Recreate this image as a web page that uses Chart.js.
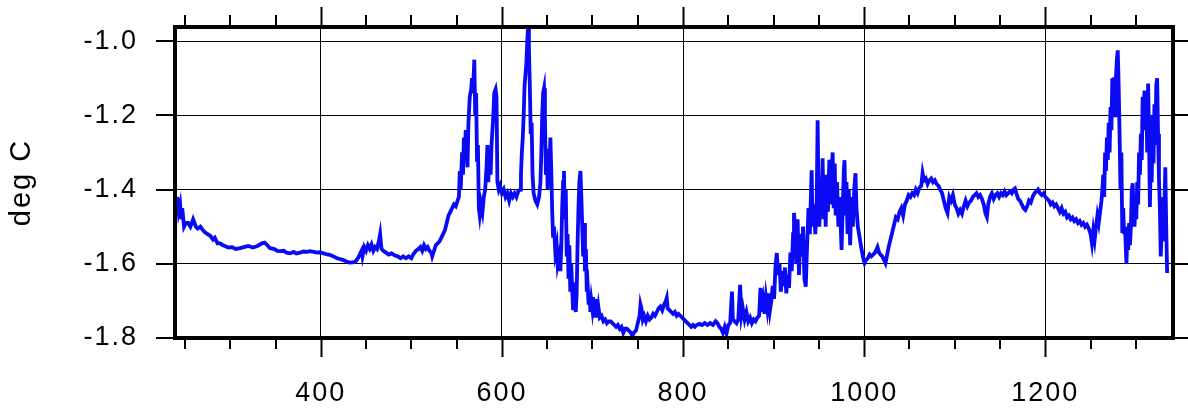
<!DOCTYPE html>
<html><head><meta charset="utf-8">
<script src="https://cdn.jsdelivr.net/npm/chart.js@4"></script>
<style>html,body{margin:0;padding:0;background:#fff}#wrap{width:1188px;height:409px;position:relative}</style>
</head><body><div id="wrap"><canvas id="c"></canvas></div>
<script>
const years = [
241.4,243,244.7,246,247,249,251,253.5,256,259,262,264,267,270,272,275,278,281,283,286,289,292,294,298,302,306,311,315,320,325,330,335,338,341,344,348,352,355,359,362,366,370,373,377,381,385,388,392,396,399,403,407,410,414,418,421,425,429,432,435,438,441,443,445,446,448,450,452,454,456,458,460,462,464,465.5,467,469,472,475,478,482,
485,488,491,494,497,500,502,505,508,510,512,514,516,518,520,522,523,525,527,529,531,533,535,537,539,541,543,545,547,549,551,552.5,553.5,554.5,556,557,558,559,560,561,562,563,564.5,566,567,568,569.5,570.5,571.5,572.5,573.5,574.5,575.5,577,578.5,580,581.5,583,584,585,586,587.5,588.5,589.5,590.5,591.5,593,594,595,596.5,598,600,602,604,606,608,610,612,614,616,618,
620,621,622,623,624,625,626,627,628,628.8,629.8,630.8,631.8,632.8,633.8,635,637,639,641,642.5,643.5,644.5,645.5,646.5,647.5,648.5,649.5,650.5,651.5,652.5,653.5,654.5,655.5,656.5,657.5,659,660.5,661.5,663,664.5,665.5,666.5,667.5,668.5,669.5,670.5,671.5,672.5,673.5,674.5,675.5,676.5,677.5,678.5,679.5,680.5,681.5,682.5,683.5,684.5,685.5,686.7,687.7,688.7,689.7,690.7,691.7,692.7,693.7,694.7,695.7,696.7,697.7,698.7,699.7,700.7,701.7,702.7,703.7,704.7,705.7,706.7,708,710,712,714,716,718,
720,722,724,726,728,730,732,734,736,738,740,742,744,746,748,750,752,753,754,755.5,757,759,761,763,765,767,769,771,773,775,777,779,781,782,783,785,787,789,791,793,795,797,799,801,803,805,807,809,811,813,815,818,821,824,827,830,833,836,838,840,842,844,846,
848,850,852,854,855,857,859,861,863,864.5,866,868,870,872,874,876,878,880,882,884,885.5,887,888.5,890,891.5,893,894.5,896,897.5,899,900.5,902,903.5,905,906.5,908,909.5,911,912.5,914,915.5,917,918.5,920,921.5,922.5,923.5,925,926.5,928,929.5,931,932.5,934,935.5,937,938.5,940,941,942,943,944.5,946,947.5,948.6,949.5,950.5,952,953.2,954.1,955.2,956.5,957.5,958.5,960,961.5,963,964.2,965.2,966.3,967.5,968.5,970,971.5,973,975,976.3,977.5,978.3,979.5,980.5,981.6,983,984.5,986,987.5,989,990.4,991.5,993,995,997,999,1000.5,
1002,1004,1006,1008,1010,1012,1014.7,1016.5,1018,1020,1022,1023.5,1025,1027,1029,1031,1033,1035,1037,1039,1041,1043,1045,1047,1049,1051,1053,1055,1057,1059,1061,1063,1064.5,1066,1068,1070,1072,1074,1076,1078,1080,1082,1084,1086,1088,1090,1092,1094,1096,1098,1100,1102,1104,1106,1108,1110,1112,1114,1116,1118,1120,1122,1124,1126,1128,1130,1132,1134,1135.5,1137,1139,1141,1143,1145,1147,1149,1151,1153,1155,1157,1159,1161,1163,1165,1166.5,1168,1170,1172,1174,1176,1178,1180,1182,1184,1186,1188,1190,1192,1194,1196,1198,1200,1202,1204,1206,1208,1210,1212,1214,1216,1218,1220,1222,1224,1226,1228,1230,1232,1234,1236,1238,1240,1242,1244,1246,1248,1250,1251.5,1253,1254.5,
1256,1257.5,1259,1260.5,1262,1263,1264,1265,1266,1267,1268,1269,1270,1271,1272,1273,1274,1275,1276,1277,1278,1279,1280,1281,1282,1283,1284,1285,1286,1287,1288,1289.6,1290.5,1291.5,1292.5,1293.5,1294.5,1295.5,1296.5,1297.5,1298.5,1299.5,1300.5,1301.5,1302.5,1303.5,1304.5,1305.5,1306.5,1307.5,1308.5,1309.5,1310.5,1311.5,1312.5,1313.5,1314.5,1315.5,1316.5,1317.5,1318.5,1319.5,1320.5,1321.5,1322.5,1323.5,1324.5,1325.5,1326.5,1327.5,1328.5,1329.5,1330.5,1331.5,1332.5,1333.5,1334.5
];
const tempC = [
-1.42,-1.46,-1.44,-1.48,-1.45,-1.50,-1.49,-1.49,-1.50,-1.48,-1.50,-1.505,-1.50,-1.51,-1.515,-1.52,-1.525,-1.535,-1.53,-1.545,-1.545,-1.55,-1.552,-1.556,-1.555,-1.56,-1.558,-1.555,-1.552,-1.556,-1.552,-1.545,-1.543,-1.55,-1.558,-1.56,-1.565,-1.566,-1.565,-1.57,-1.572,-1.568,-1.572,-1.57,-1.567,-1.568,-1.566,-1.568,-1.57,-1.569,-1.572,-1.575,-1.576,-1.58,-1.585,-1.587,-1.59,-1.595,-1.597,-1.596,-1.595,-1.585,-1.575,-1.565,-1.58,-1.555,-1.565,-1.55,-1.56,-1.548,-1.565,-1.555,-1.56,-1.54,-1.52,-1.56,-1.565,-1.57,-1.575,-1.572,-1.578,
-1.58,-1.585,-1.58,-1.585,-1.58,-1.585,-1.575,-1.565,-1.56,-1.555,-1.565,-1.55,-1.56,-1.555,-1.565,-1.57,-1.58,-1.565,-1.55,-1.545,-1.54,-1.53,-1.52,-1.51,-1.49,-1.47,-1.46,-1.45,-1.44,-1.445,-1.43,-1.42,-1.35,-1.40,-1.30,-1.36,-1.26,-1.32,-1.24,-1.30,-1.34,-1.22,-1.15,-1.13,-1.10,-1.14,-1.05,-1.20,-1.14,-1.32,-1.28,-1.45,-1.47,-1.44,-1.46,-1.42,-1.40,-1.34,-1.28,-1.38,-1.30,-1.36,-1.28,-1.24,-1.20,-1.14,-1.13,-1.15,-1.38,-1.40,-1.39,-1.41,-1.40,-1.42,-1.41,-1.43,-1.41,-1.42,-1.41,-1.42,-1.405,
-1.40,-1.36,-1.30,-1.26,-1.20,-1.12,-1.09,-1.06,-1.00,-0.965,-1.02,-1.12,-1.25,-1.22,-1.36,-1.41,-1.43,-1.44,-1.42,-1.38,-1.30,-1.20,-1.14,-1.127,-1.20,-1.36,-1.30,-1.40,-1.29,-1.36,-1.26,-1.35,-1.46,-1.53,-1.50,-1.57,-1.55,-1.60,-1.58,-1.62,-1.56,-1.45,-1.38,-1.35,-1.48,-1.40,-1.58,-1.52,-1.64,-1.55,-1.675,-1.60,-1.66,-1.72,-1.65,-1.70,-1.73,-1.68,-1.55,-1.45,-1.38,-1.35,-1.42,-1.50,-1.58,-1.49,-1.62,-1.56,-1.675,-1.66,-1.71,-1.68,-1.73,-1.70,-1.72,-1.69,-1.74,-1.70,-1.735,-1.695,-1.745,-1.72,-1.745,-1.74,-1.755,-1.75,-1.76,-1.755,
-1.755,-1.76,-1.765,-1.77,-1.765,-1.775,-1.77,-1.786,-1.775,-1.775,-1.78,-1.785,-1.794,-1.785,-1.78,-1.76,-1.74,-1.71,-1.72,-1.75,-1.74,-1.755,-1.74,-1.75,-1.745,-1.735,-1.74,-1.73,-1.72,-1.715,-1.725,-1.71,-1.70,-1.692,-1.72,-1.725,-1.73,-1.735,-1.73,-1.74,-1.735,-1.74,-1.745,-1.75,-1.755,-1.76,-1.765,-1.77,-1.765,-1.77,-1.765,-1.762,-1.765,-1.76,-1.765,-1.76,-1.765,-1.755,-1.76,-1.77,-1.775,-1.786,-1.77,
-1.787,-1.765,-1.76,-1.675,-1.75,-1.755,-1.76,-1.75,-1.657,-1.74,-1.72,-1.75,-1.73,-1.755,-1.745,-1.76,-1.75,-1.755,-1.745,-1.74,-1.665,-1.73,-1.70,-1.735,-1.69,-1.72,-1.68,-1.725,-1.70,-1.66,-1.695,-1.61,-1.571,-1.63,-1.60,-1.675,-1.62,-1.66,-1.61,-1.68,-1.63,-1.665,-1.57,-1.62,-1.52,-1.463,-1.50,-1.60,-1.48,-1.63,-1.52,-1.58,-1.50,-1.64,-1.662,-1.55,-1.45,-1.52,-1.43,-1.348,-1.50,-1.44,-1.52,-1.45,-1.213,-1.40,-1.50,-1.38,-1.42,-1.316,-1.48,-1.37,-1.50,-1.36,-1.46,-1.32,-1.44,-1.34,-1.30,-1.45,-1.33,-1.47,-1.38,-1.50,-1.42,-1.563,-1.45,-1.35,-1.321,-1.47,-1.38,-1.52,-1.40,-1.55,-1.42,-1.50,-1.40,-1.356,-1.45,-1.50,-1.53,-1.56,-1.585,-1.598,
-1.59,-1.585,-1.575,-1.58,-1.575,-1.57,-1.555,-1.57,-1.575,-1.58,-1.59,-1.598,-1.58,-1.555,-1.535,-1.515,-1.495,-1.475,-1.48,-1.46,-1.45,-1.47,-1.44,-1.43,-1.415,-1.42,-1.41,-1.415,-1.40,-1.41,-1.395,-1.39,-1.356,-1.375,-1.37,-1.385,-1.375,-1.37,-1.38,-1.375,-1.385,-1.39,-1.40,-1.41,-1.43,-1.45,-1.463,-1.42,-1.43,-1.415,-1.44,-1.45,-1.465,-1.455,-1.465,-1.445,-1.43,-1.445,-1.435,-1.43,-1.42,-1.415,-1.41,-1.42,-1.415,-1.425,-1.44,-1.465,-1.474,-1.44,-1.42,-1.41,-1.425,-1.415,-1.41,-1.42,-1.41,-1.415,-1.405,-1.415,-1.41,-1.405,-1.41,-1.40,-1.397,-1.41,-1.425,-1.43,-1.44,-1.45,-1.455,-1.445,-1.43,-1.435,-1.42,-1.41,-1.405,-1.40,-1.41,-1.415,-1.41,-1.42,-1.425,-1.43,-1.44,-1.435,-1.445,-1.44,-1.45,-1.46,-1.45,-1.465,-1.46,-1.475,-1.47,-1.48,-1.475,-1.485,-1.48,-1.49,-1.485,-1.495,-1.49,-1.50,-1.495,-1.505,-1.52,-1.545,-1.51,-1.535,
-1.50,-1.47,-1.49,-1.46,-1.43,-1.40,-1.36,-1.42,-1.30,-1.35,-1.26,-1.32,-1.22,-1.30,-1.178,-1.24,-1.10,-1.12,-1.098,-1.20,-1.10,-1.05,-1.025,-1.12,-1.25,-1.40,-1.30,-1.517,-1.45,-1.52,-1.50,-1.60,-1.53,-1.563,-1.49,-1.55,-1.50,-1.40,-1.383,-1.45,-1.50,-1.44,-1.48,-1.38,-1.44,-1.30,-1.36,-1.25,-1.32,-1.15,-1.24,-1.133,-1.22,-1.14,-1.30,-1.114,-1.25,-1.447,-1.30,-1.38,-1.20,-1.33,-1.17,-1.28,-1.12,-1.10,-1.25,-1.37,-1.45,-1.58,-1.50,-1.54,-1.42,-1.45,-1.34,-1.50,-1.625
];
const xTickValues = [400, 600, 800, 1000, 1200];
const xMinorTickValues = [250, 300, 350, 450, 500, 550, 650, 700, 750, 850, 900, 950, 1050, 1100, 1150, 1250, 1300];
const yTickValues = [-1.8, -1.6, -1.4, -1.2, -1.0];
const yTickLabels = ['-1.8', '-1.6', '-1.4', '-1.2', '-1.0'];
const xTickLabels = ['400', '600', '800', '1000', '1200'];
const yTitle = 'deg C';

const points = years.map((yr, i) => ({x: yr, y: tempC[i]}));

const frameTicks = {
  id: 'frameTicks',
  beforeDraw(chart) { chart.ctx.letterSpacing = '2px'; },
  afterDraw(chart) {
    const {ctx, chartArea: {left, right, top, bottom}, scales: {x, y}} = chart;
    ctx.save();
    ctx.strokeStyle = '#000';
    ctx.lineWidth = 2;
    ctx.beginPath();
    xTickValues.forEach(v => {
      const p = Math.round(x.getPixelForValue(v)) + 0.5;
      ctx.moveTo(p, top - 20); ctx.lineTo(p, top);
      ctx.moveTo(p, bottom); ctx.lineTo(p, bottom + 19);
    });
    xMinorTickValues.forEach(v => {
      const p = Math.round(x.getPixelForValue(v));
      ctx.moveTo(p, top - 12); ctx.lineTo(p, top);
      ctx.moveTo(p, bottom); ctx.lineTo(p, bottom + 11);
    });
    yTickValues.forEach(v => {
      const p = Math.round(y.getPixelForValue(v));
      ctx.moveTo(left - 19, p); ctx.lineTo(left, p);
      ctx.moveTo(right, p); ctx.lineTo(right + 16, p);
    });
    ctx.stroke();
    ctx.lineWidth = 4;
    ctx.strokeRect(left, top, right - left, bottom - top);
    ctx.restore();
  }
};

new Chart(document.getElementById('c'), {
  type: 'line',
  data: {
    datasets: [{
      data: points,
      borderColor: 'rgb(10,10,245)',
      borderWidth: 3.8,
      pointRadius: 0,
      tension: 0,
      fill: false
    }]
  },
  options: {
    responsive: true,
    maintainAspectRatio: false,
    devicePixelRatio: 1,
    animation: false,
    parsing: false,
    normalized: true,
    layout: {padding: {left: 0, right: 15, top: 27, bottom: 0}},
    plugins: {legend: {display: false}, tooltip: {enabled: false}},
    scales: {
      x: {
        type: 'linear',
        min: 239,
        max: 1341,
        afterFit(s) { s.height = 71; s.paddingLeft = 0; s.paddingRight = 0; },
        afterBuildTicks(s) { s.ticks = xTickValues.map(v => ({value: v})); },
        ticks: {
          color: '#000',
          font: {family: 'Liberation Sans, Arial, sans-serif', size: 27},
          padding: 39,
          maxRotation: 0,
          autoSkip: false,
          callback: (v) => xTickLabels[xTickValues.indexOf(v)]
        },
        grid: {color: '#000', lineWidth: 1, drawTicks: false},
        border: {display: false}
      },
      y: {
        type: 'linear',
        min: -1.8,
        max: -0.962,
        afterFit(s) { s.width = 175; s.paddingTop = 0; s.paddingBottom = 0; },
        afterBuildTicks(s) { s.ticks = yTickValues.map(v => ({value: v})); },
        ticks: {
          color: '#000',
          font: {family: 'Liberation Sans, Arial, sans-serif', size: 27},
          padding: 37,
          autoSkip: false,
          callback: (v) => yTickLabels[yTickValues.indexOf(v)]
        },
        grid: {color: '#000', lineWidth: 1, drawTicks: false},
        border: {display: false},
        title: {
          display: true,
          text: yTitle,
          color: '#000',
          font: {family: 'Liberation Sans, Arial, sans-serif', size: 29},
          padding: {top: 5, bottom: 0}
        }
      }
    }
  },
  plugins: [frameTicks]
});
</script>
</body></html>
